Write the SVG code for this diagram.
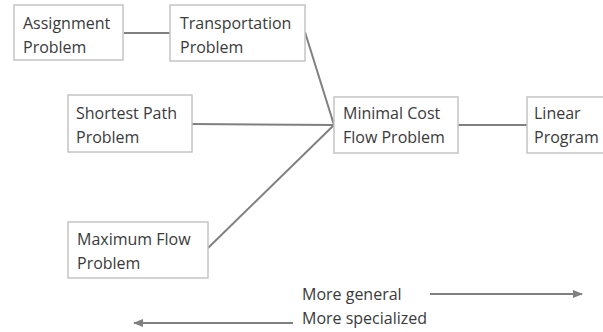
<svg xmlns="http://www.w3.org/2000/svg" width="603" height="332" viewBox="0 0 603 332">
<style>
.box{fill:#fff;stroke:#c4c4c4;stroke-width:1.5}
.t{font-family:"Open Sans","Liberation Sans",sans-serif;font-size:16px;fill:#3a3a3a}
.c{stroke:#808080;stroke-width:2;fill:none}
</style>
<defs>
<marker id="ah" viewBox="0 0 10 10" refX="9" refY="5" markerWidth="5" markerHeight="5" orient="auto-start-reverse" markerUnits="strokeWidth">
<path d="M0,1 L10,5 L0,9 Z" fill="#808080"/>
</marker>
</defs>
<rect width="603" height="332" fill="#fff"/>
<g id="connectors">
<line class="c" x1="124" y1="33" x2="170" y2="33"/>
<line class="c" x1="305" y1="32" x2="334" y2="125"/>
<line class="c" x1="192" y1="124" x2="334" y2="125"/>
<line class="c" x1="208" y1="248" x2="334" y2="125"/>
<line class="c" x1="458" y1="125" x2="527" y2="125"/>
<line class="c" x1="430" y1="294" x2="582" y2="294" marker-end="url(#ah)"/>
<line class="c" x1="293" y1="323" x2="134" y2="323" marker-end="url(#ah)"/>
</g>
<g id="assignment">
<rect class="box" x="14" y="5" width="109" height="55"/>
<text class="t" x="23" y="29">Assignment</text>
<text class="t" x="23" y="53">Problem</text>
</g>
<g id="transportation">
<rect class="box" x="170" y="5" width="135" height="56"/>
<text class="t" x="180" y="29">Transportation</text>
<text class="t" x="180" y="53">Problem</text>
</g>
<g id="shortest">
<rect class="box" x="68" y="95" width="124" height="57"/>
<text class="t" x="76" y="119">Shortest Path</text>
<text class="t" x="76" y="143">Problem</text>
</g>
<g id="mincost">
<rect class="box" x="334" y="97" width="124" height="56"/>
<text class="t" x="343" y="119">Minimal Cost</text>
<text class="t" x="343" y="143">Flow Problem</text>
</g>
<g id="linear">
<rect class="box" x="527" y="97" width="90" height="56"/>
<text class="t" x="534" y="119">Linear</text>
<text class="t" x="534" y="143">Program</text>
</g>
<g id="maxflow">
<rect class="box" x="68" y="222" width="140" height="56"/>
<text class="t" x="77" y="245">Maximum Flow</text>
<text class="t" x="77" y="269">Problem</text>
</g>
<g id="legend">
<text class="t" x="302" y="300">More general</text>
<text class="t" x="302" y="324">More specialized</text>
</g>
</svg>
